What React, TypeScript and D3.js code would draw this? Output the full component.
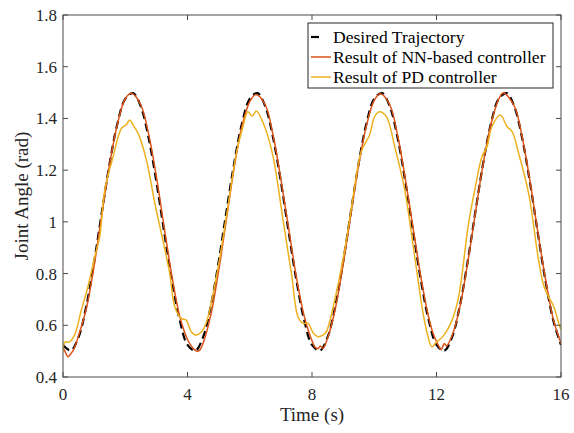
import React, { useEffect, useRef } from "react";
import * as d3 from "d3";

const xTicks = [0, 4, 8, 12, 16];
const yTicks = [0.4, 0.6, 0.8, 1.0, 1.2, 1.4, 1.6, 1.8];
const legendLabels = ["Desired Trajectory", "Result of NN-based controller", "Result of PD controller"];

// Desired trajectory, sampled every 0.25 s from t = 0 to 16
const desiredTimes = d3.range(0, 16.001, 0.25);
const desiredValues = [
  0.524, 0.502, 0.554, 0.675, 0.845, 1.039, 1.227, 1.380, 1.476, 1.498, 1.446, 1.325, 1.155, 0.961, 0.773, 0.620,
  0.524, 0.502, 0.554, 0.675, 0.845, 1.039, 1.227, 1.380, 1.476, 1.498, 1.446, 1.325, 1.155, 0.961, 0.773, 0.620,
  0.524, 0.502, 0.554, 0.675, 0.845, 1.039, 1.227, 1.380, 1.476, 1.498, 1.446, 1.325, 1.155, 0.961, 0.773, 0.620,
  0.524, 0.502, 0.554, 0.675, 0.845, 1.039, 1.227, 1.380, 1.476, 1.498, 1.446, 1.325, 1.155, 0.961, 0.773, 0.620,
  0.524,
];

// NN-based controller result
const nnTimes = [
  0.0, 0.08, 0.16, 0.25, 0.35, 0.5, 0.75, 1.0, 1.25, 1.5, 1.75, 2.0, 2.2, 2.5, 2.75, 3.0, 3.25, 3.5, 3.75,
  4.0, 4.15, 4.3, 4.4, 4.5, 4.75, 5.0, 5.25, 5.5, 5.75, 6.0, 6.2, 6.5, 6.75, 7.0, 7.25, 7.5, 7.75,
  8.0, 8.1, 8.2, 8.27, 8.35, 8.5, 8.75, 9.0, 9.25, 9.5, 9.75, 10.0, 10.2, 10.5, 10.75, 11.0, 11.25, 11.5, 11.75,
  11.9, 12.05, 12.15, 12.25, 12.32, 12.5, 12.75, 13.0, 13.25, 13.5, 13.75, 14.0, 14.15, 14.5, 14.75, 15.0, 15.25, 15.5, 15.75, 16.0,
];
const nnValues = [
  0.515, 0.495, 0.478, 0.49, 0.508, 0.56, 0.665, 0.83, 1.03, 1.225, 1.378, 1.476, 1.497, 1.452, 1.34, 1.175, 0.98, 0.79, 0.635,
  0.545, 0.515, 0.5, 0.505, 0.53, 0.64, 0.81, 1.01, 1.21, 1.37, 1.465, 1.493, 1.452, 1.335, 1.165, 0.975, 0.785, 0.635,
  0.54, 0.515, 0.51, 0.52, 0.51, 0.55, 0.665, 0.835, 1.03, 1.22, 1.372, 1.47, 1.495, 1.452, 1.335, 1.165, 0.975, 0.785, 0.63,
  0.565, 0.525, 0.505, 0.53, 0.52, 0.56, 0.67, 0.84, 1.035, 1.225, 1.378, 1.475, 1.498, 1.448, 1.33, 1.16, 0.965, 0.78, 0.625, 0.53,
];

// PD controller result
const pdTimes = [
  0.0, 0.06, 0.2, 0.37, 0.59, 0.8, 1.02, 1.18, 1.34, 1.61, 1.88, 2.03, 2.14, 2.25, 2.41, 2.68, 2.95, 3.16, 3.43, 3.59, 3.8, 3.96,
  4.12, 4.28, 4.45, 4.6, 4.93, 5.25, 5.57, 5.78, 5.94, 6.08, 6.21, 6.48, 6.75, 7.07, 7.34, 7.55, 7.71, 7.87,
  8.05, 8.19, 8.35, 8.46, 8.73, 9.05, 9.32, 9.58, 9.85, 10.01, 10.17, 10.39, 10.66, 10.98, 11.3, 11.57, 11.7, 11.85,
  12.0, 12.22, 12.5, 12.71, 13.03, 13.25, 13.46, 13.62, 13.78, 14.05, 14.27, 14.43, 14.64, 14.96, 15.28, 15.44, 15.6, 15.77, 15.98, 16.0,
];
const pdValues = [
  0.5, 0.535, 0.535, 0.562, 0.659, 0.749, 0.865, 0.943, 1.123, 1.252, 1.362, 1.375, 1.394, 1.375, 1.343, 1.239, 1.072, 0.956, 0.8, 0.672, 0.627, 0.62,
  0.575, 0.562, 0.575, 0.608, 0.788, 1.02, 1.265, 1.368, 1.426, 1.409, 1.429, 1.368, 1.252, 1.007, 0.8, 0.633, 0.608, 0.608,
  0.568, 0.556, 0.562, 0.575, 0.698, 0.891, 1.097, 1.271, 1.336, 1.407, 1.426, 1.407, 1.29, 1.123, 0.865, 0.646, 0.57, 0.517,
  0.535, 0.559, 0.62, 0.71, 0.994, 1.136, 1.252, 1.29, 1.368, 1.413, 1.368, 1.349, 1.265, 1.11, 0.852, 0.756, 0.71, 0.672, 0.588, 0.585,
];

const W = 574;
const H = 433;
const M = { left: 63, right: 561, top: 15, bottom: 377 };
const FONT = "'Liberation Serif', 'Times New Roman', serif";
const TEXT = "#262626";
const AXIS = "#4a4a4a";
const C_DES = "#000000";
const C_NN = "#D95319";
const C_PD = "#EDB120";

export default function App() {
  const ref = useRef<SVGSVGElement | null>(null);

  useEffect(() => {
    const svg = d3.select(ref.current);
    svg.selectAll("*").remove();

    const x = d3.scaleLinear().domain([0, 16]).range([M.left, M.right]);
    const y = d3.scaleLinear().domain([0.4, 1.8]).range([M.bottom, M.top]);

    svg.append("rect").attr("width", W).attr("height", H).attr("fill", "#fff");

    svg.append("defs").append("clipPath").attr("id", "clip")
      .append("rect").attr("x", M.left).attr("y", M.top)
      .attr("width", M.right - M.left).attr("height", M.bottom - M.top);

    const line = d3.line<[number, number]>()
      .x((d) => x(d[0])).y((d) => y(d[1]))
      .curve(d3.curveCatmullRom.alpha(0.5));

    const plot = svg.append("g").attr("clip-path", "url(#clip)");
    const desired = desiredTimes.map((t, i) => [t, desiredValues[i]] as [number, number]);
    const nn = nnTimes.map((t, i) => [t, nnValues[i]] as [number, number]);
    const pd = pdTimes.map((t, i) => [t, pdValues[i]] as [number, number]);

    plot.append("path").attr("d", line(desired)).attr("fill", "none")
      .attr("stroke", C_DES).attr("stroke-width", 2.2).attr("stroke-dasharray", "8,4.5");
    plot.append("path").attr("d", line(nn)).attr("fill", "none")
      .attr("stroke", C_NN).attr("stroke-width", 1.5).attr("stroke-linejoin", "round");
    plot.append("path").attr("d", line(pd)).attr("fill", "none")
      .attr("stroke", C_PD).attr("stroke-width", 1.5).attr("stroke-linejoin", "round");

    // axes box
    const ax = svg.append("g");
    ax.append("rect").attr("x", M.left).attr("y", M.top)
      .attr("width", M.right - M.left).attr("height", M.bottom - M.top)
      .attr("fill", "none").attr("stroke", AXIS).attr("stroke-width", 1);
    const tl = 5;
    xTicks.forEach((t) => {
      const px = x(t);
      ax.append("line").attr("x1", px).attr("x2", px).attr("y1", M.bottom).attr("y2", M.bottom - tl).attr("stroke", AXIS);
      ax.append("line").attr("x1", px).attr("x2", px).attr("y1", M.top).attr("y2", M.top + tl).attr("stroke", AXIS);
      ax.append("text").attr("x", px).attr("y", M.bottom + 23).attr("text-anchor", "middle")
        .attr("font-family", FONT).attr("font-size", 17).attr("fill", TEXT).text(String(t));
    });
    yTicks.forEach((t) => {
      const py = y(t);
      ax.append("line").attr("x1", M.left).attr("x2", M.left + tl).attr("y1", py).attr("y2", py).attr("stroke", AXIS);
      ax.append("line").attr("x1", M.right).attr("x2", M.right - tl).attr("y1", py).attr("y2", py).attr("stroke", AXIS);
      ax.append("text").attr("x", M.left - 6).attr("y", py + 6).attr("text-anchor", "end")
        .attr("font-family", FONT).attr("font-size", 17).attr("fill", TEXT).text(d3.format("~g")(+t.toFixed(1)));
    });

    ax.append("text").attr("x", (M.left + M.right) / 2).attr("y", 421).attr("text-anchor", "middle")
      .attr("font-family", FONT).attr("font-size", 19).attr("fill", TEXT).text("Time (s)");
    ax.append("text").attr("transform", `translate(28,${(M.top + M.bottom) / 2}) rotate(-90)`)
      .attr("text-anchor", "middle").attr("font-family", FONT).attr("font-size", 19).attr("fill", TEXT)
      .text("Joint Angle (rad)");

    // legend
    const lg = svg.append("g");
    lg.append("rect").attr("x", 308).attr("y", 23).attr("width", 245).attr("height", 65)
      .attr("fill", "#fff").attr("stroke", "#262626").attr("stroke-width", 1);
    const colors = [C_DES, C_NN, C_PD];
    legendLabels.forEach((lab, i) => {
      const cy = 37 + i * 20;
      const l = lg.append("line").attr("x1", 311).attr("x2", 331).attr("y1", cy).attr("y2", cy)
        .attr("stroke", colors[i]).attr("stroke-width", i === 0 ? 2.2 : 1.5);
      if (i === 0) l.attr("stroke-dasharray", "8,20");
      lg.append("text").attr("x", 333).attr("y", cy + 6).attr("font-family", FONT).attr("font-size", 17.6)
        .attr("fill", "#000").text(lab);
    });
  }, []);

  return (
    <div style={{ position: "fixed", left: 0, top: 0 }}>
      <svg ref={ref} width={W} height={H} style={{ display: "block" }} />
    </div>
  );
}
